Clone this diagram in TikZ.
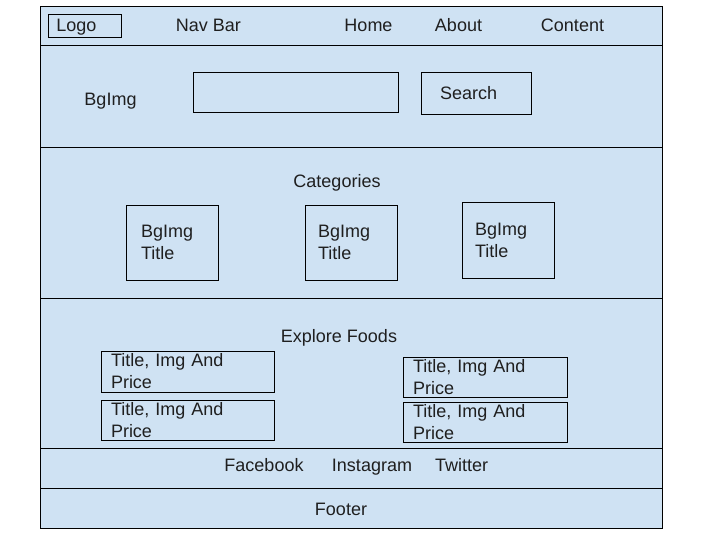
\documentclass[tikz,border=0pt]{standalone}
\usepackage{fontspec}
\setmainfont{Liberation Sans}
\usepackage{xcolor}
\usepackage{tikz}
\usetikzlibrary{positioning,calc}
\definecolor{bandblue}{HTML}{CFE2F3}
\definecolor{inkgray}{HTML}{1F1F1F}

\begin{document}
\begin{tikzpicture}[x=1pt, y=-1pt,
    every node/.style={font=\fontsize{18pt}{22pt}\selectfont, text=inkgray},
    band/.style={draw, fill=bandblue, minimum width=622pt, inner sep=0pt},
    wbox/.style={draw, inner xsep=#1, inner ysep=0pt, align=left},
    lbl/.style={anchor=base}]
    \useasboundingbox (0,0) rectangle (720,540);

    \node[band, minimum height=39pt] (nav) at (351,25.5) {};
    \node[band, minimum height=102pt] (hero) at (351,96) {};
    \node[band, minimum height=151pt] (cats) at (351,222.5) {};
    \node[band, minimum height=150pt] (foods) at (351,373) {};
    \node[band, minimum height=40pt] (social) at (351,468) {};
    \node[band, minimum height=40pt] (foot) at (351,508) {};

    \node[draw, minimum width=73pt, minimum height=23pt] (logo) at (84.5,25.5) {};
    \node[lbl, anchor=base west] (logotext) at ($(logo.west)+(5,6)$) {Logo};
    \node[lbl] (navbar) at (208.5,31.5) {Nav Bar};
    \node[lbl] (home) at (368.5,31.5) {Home};
    \node[lbl] (about) at (458.5,31.5) {About};
    \node[lbl] (content) at (572.5,31.5) {Content};

    \node[lbl] (bgimg) at (110.5,105.5) {BgImg};
    \node[draw, minimum width=205pt, minimum height=40pt] (input) at (295.5,92) {};
    \node[wbox=19pt, text width=72pt, minimum height=42pt] (search) at (476,93) {Search};

    \node[lbl] (categories) at (337,187.5) {Categories};
    \node[wbox=15pt, text width=62pt, minimum height=75pt] (cat1) at (172,242.5) {BgImg\\Title};
    \node[wbox=13pt, text width=66pt, minimum height=75pt] (cat2) at (351,242.5) {BgImg\\Title};
    \node[wbox=13pt, text width=66pt, minimum height=76pt] (cat3) at (508,240) {BgImg\\Title};

    \node[lbl] (explore) at (339,342.5) {Explore Foods};
    \node[wbox=10pt, text width=153pt, minimum height=41pt] (food1) at (187.5,371.5) {Title, Img And\\Price};
    \node[wbox=10pt, text width=153pt, minimum height=40pt] (food2) at (187.5,420) {Title, Img And\\Price};
    \node[wbox=10pt, text width=144pt, minimum height=40pt] (food3) at (485,377) {Title, Img And\\Price};
    \node[wbox=10pt, text width=144pt, minimum height=40pt] (food4) at (485,422) {Title, Img And\\Price};

    \node[lbl] (facebook) at (264,471.5) {Facebook};
    \node[lbl] (instagram) at (372,471.5) {Instagram};
    \node[lbl] (twitter) at (461.5,471.5) {Twitter};

    \node[lbl] (footer) at (341,515.5) {Footer};
\end{tikzpicture}
\end{document}
